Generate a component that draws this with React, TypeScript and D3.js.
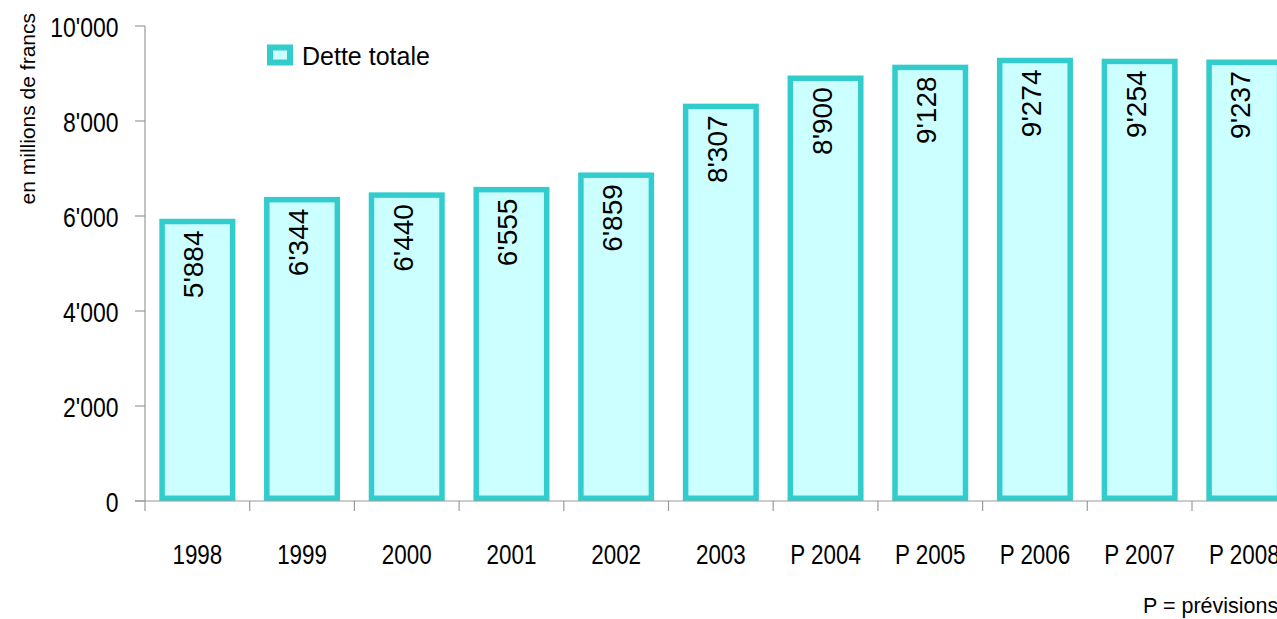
import React from "react";
import * as d3 from "d3";

const categories = ["1998", "1999", "2000", "2001", "2002", "2003", "P 2004", "P 2005", "P 2006", "P 2007", "P 2008"];
const detteTotale = [5884, 6344, 6440, 6555, 6859, 8307, 8900, 9128, 9274, 9254, 9237];
const yTicks = [0, 2000, 4000, 6000, 8000, 10000];
const seriesName = "Dette totale";
const yTitle = "en millions de francs";
const footnote = "P = prévisions";

const W = 1277;
const H = 619;
const FONT = "'Liberation Sans', Arial, Helvetica, sans-serif";

const fmt = d3.formatLocale({ decimal: ".", thousands: "'", grouping: [3], currency: ["", ""] }).format(",d");

export default function App() {
  const x = d3.scaleBand<string>().domain(categories).range([145, 145 + 104.7 * categories.length]).padding(0);
  const y = d3.scaleLinear().domain([0, 10000]).range([501, 26]);
  const bw = x.bandwidth();
  const barW = 70.5;
  const sw = 5.5;
  const axisColor = "#9a9a9a";

  return (
    <svg width={W} height={H} style={{ position: "absolute", left: 0, top: 0, display: "block", background: "#fff" }} fontFamily={FONT}>
      {/* bars */}
      {categories.map((c, i) => {
        const cx = (x(c) as number) + bw / 2;
        const top = y(detteTotale[i]);
        return (
          <g key={c}>
            <rect
              x={cx - barW / 2}
              y={top}
              width={barW}
              height={y(0) - sw / 2 - top}
              fill="#CCFFFF"
              stroke="#33CCCC"
              strokeWidth={sw}
            />
            <text
              transform={`translate(${cx + 6},${top + 9}) rotate(-90)`}
              textAnchor="end"
              fontSize={28}
              fill="#000"
            >
              {fmt(detteTotale[i])}
            </text>
          </g>
        );
      })}

      {/* y axis */}
      <line x1={145} x2={145} y1={y(10000)} y2={y(0)} stroke={axisColor} strokeWidth={1.2} />
      {yTicks.map((t) => (
        <g key={t}>
          <line x1={135} x2={145} y1={y(t)} y2={y(t)} stroke={axisColor} strokeWidth={1.2} />
          <text transform={`translate(118.5,${y(t) + 10.5}) scale(0.82,1)`} textAnchor="end" fontSize={28} fill="#000">
            {fmt(t)}
          </text>
        </g>
      ))}

      {/* x axis */}
      <line x1={135} x2={W} y1={y(0)} y2={y(0)} stroke={axisColor} strokeWidth={1.2} />
      {categories.map((c) => (
        <line key={"t" + c} x1={x(c) as number} x2={x(c) as number} y1={y(0)} y2={y(0) + 10} stroke={axisColor} strokeWidth={1.2} />
      ))}
      {categories.map((c) => (
        <text
          key={"l" + c}
          transform={`translate(${(x(c) as number) + bw / 2},564) scale(0.83,1)`}
          textAnchor="middle"
          fontSize={27}
          fill="#000"
        >
          {c}
        </text>
      ))}

      {/* y title */}
      <text transform={`translate(35,13) rotate(-90)`} textAnchor="end" fontSize={21} fill="#000">
        {yTitle}
      </text>

      {/* legend */}
      <rect x={270} y={47.5} width={20} height={15} fill="#CCFFFF" stroke="#33CCCC" strokeWidth={6} />
      <text transform="translate(302,64.5)" fontSize={25} fill="#000">
        {seriesName}
      </text>

      {/* footnote */}
      <text transform="translate(1143,613)" fontSize={21.5} fill="#000">
        {footnote}
      </text>
    </svg>
  );
}
